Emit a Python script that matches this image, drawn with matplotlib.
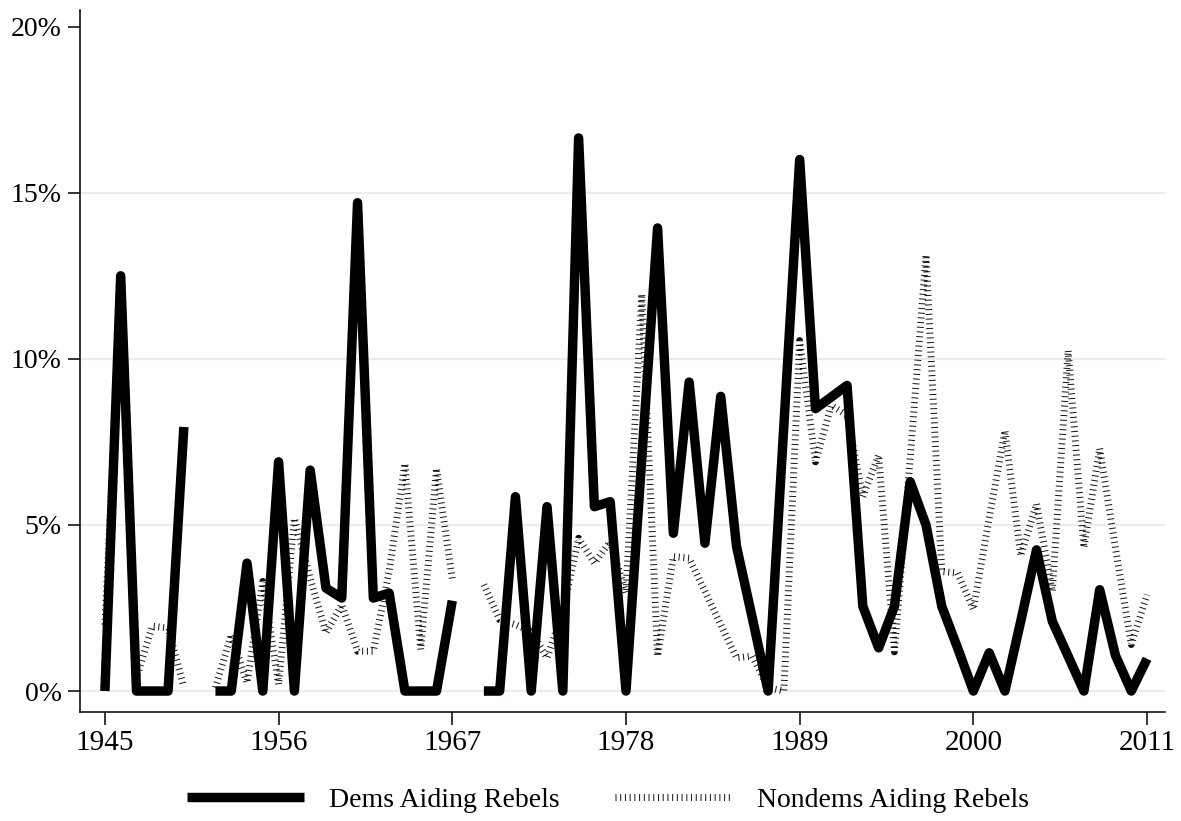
import numpy as np
import matplotlib
matplotlib.use('Agg')
import matplotlib.pyplot as plt

nan = np.nan

years = np.arange(1945, 2012)

# share of dyads (percent), gaps = no data
dems = [0, 12.5, 0, 0, 0, 7.95, nan,
        0, 0, 3.85, 0, 6.9, 0, 6.65, 3.1, 2.8, 14.7, 2.8, 2.95, 0, 0, 0, 2.72, nan,
        0, 0, 5.85, 0, 5.55, 0, 16.65, 5.55, 5.7, 0, 7.0, 13.94, 4.75, 9.3, 4.45, 8.87,
        4.35, 2.2, 0, 8.0, 16.0, 8.5, 8.85, 9.2, 2.55, 1.3, 2.55, 6.3, 5.0, 2.55, 1.3,
        0, 1.15, 0, 2.1, 4.25, 2.1, 1.05, 0, 3.05, 1.07, 0, 0.97]

nondems = [2.0, 11.8, 0.4, 1.95, 1.9, 0.12, nan,
           0.1, 1.7, 0.25, 3.3, 0.2, 5.2, 3.4, 1.75, 2.6, 1.2, 1.2, 3.6, 6.85, 1.25, 6.7, 3.37, nan,
           3.2, 2.15, 2.0, 1.8, 1.0, 2.4, 4.6, 3.85, 4.5, 2.95, 11.95, 1.05, 4.05, 4.0, 3.0, 2.0,
           1.0, 1.05, 0.1, 0.0, 10.55, 6.9, 8.6, 8.3, 5.85, 7.1, 1.18, 7.0, 13.13, 3.6, 3.55,
           2.46, 5.2, 7.84, 4.07, 5.63, 3.0, 10.25, 4.32, 7.3, 4.3, 1.4, 2.9]

xticks = [1945, 1956, 1967, 1978, 1989, 2000, 2011]
yticks = [0, 5, 10, 15, 20]
ylabels = ['0%', '5%', '10%', '15%', '20%']

plt.rcParams['font.family'] = ['Liberation Serif', 'DejaVu Serif']
plt.rcParams['lines.scale_dashes'] = False
fs = 20

fig = plt.figure(figsize=(11.81, 8.21), dpi=100)
ax = fig.add_axes([0.0677, 0.1328, 0.9188, 0.855])

ax.plot(years, nondems, color='#111111', lw=5.0, dashes=(0.7, 2.7),
        dash_capstyle='butt', label='Nondems Aiding Rebels', zorder=2)
ax.plot(years, dems, color='black', lw=6.8, solid_joinstyle='round',
        solid_capstyle='butt', label='Dems Aiding Rebels', zorder=3)

ax.set_xlim(1943.42, 2012.14)
ax.set_ylim(-0.63, 20.5)
ax.set_xticks(xticks)
ax.set_yticks(yticks)
ax.set_yticklabels(ylabels)
ax.tick_params(labelsize=fs, length=9, width=1.1, color='black', pad=4)
ax.tick_params(axis='x', labelsize=fs + 1)

ax.yaxis.grid(True, color='#e6eef0', lw=1.6)
ax.yaxis.get_gridlines()[-1].set_visible(False)
ax.set_axisbelow(True)

for s in ['top', 'right']:
    ax.spines[s].set_visible(False)
for s in ['left', 'bottom']:
    ax.spines[s].set_linewidth(1.1)

h, l = ax.get_legend_handles_labels()
fig.legend(h[::-1], l[::-1], loc='center', bbox_to_anchor=(0.515, 0.025), ncol=2,
           frameon=False, fontsize=fs, handlelength=4.2, handletextpad=0.9,
           columnspacing=2.0)

fig.savefig('out.png', dpi=100)
